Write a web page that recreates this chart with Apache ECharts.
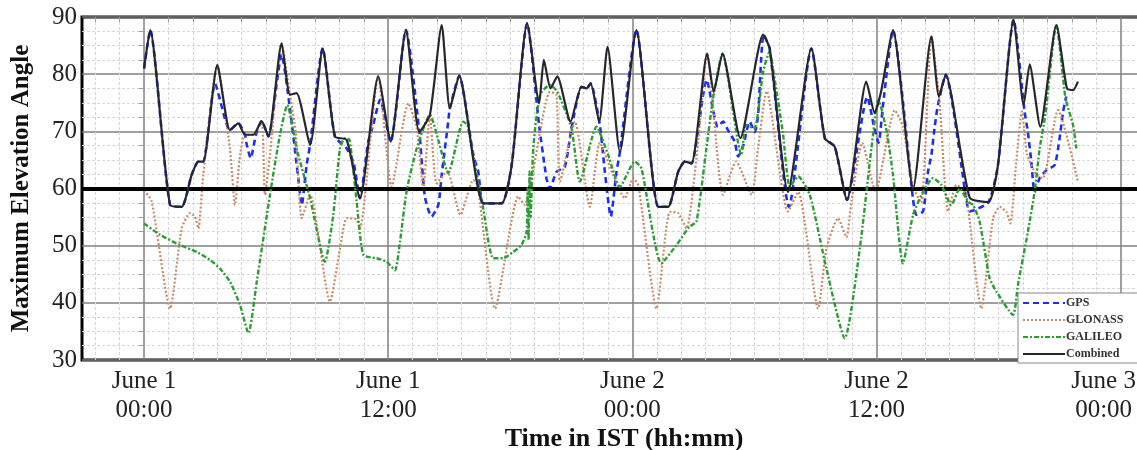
<!DOCTYPE html>
<html>
<head>
<meta charset="utf-8">
<title>Maximum Elevation Angle</title>
<script src="https://cdn.jsdelivr.net/npm/echarts@6/dist/echarts.min.js"></script>
<style>
  html, body { margin: 0; padding: 0; background: #fff; }
  #main { width: 1137px; height: 450px; }
</style>
</head>
<body>
<div id="main"></div>
<script>
// hours since June 1 00:00 IST, elevation in degrees
const tickHours = [0, 12, 24, 36, 48];
const tickLabels = ['June 1\n00:00', 'June 1\n12:00', 'June 2\n00:00', 'June 2\n12:00', 'June 3\n00:00'];

const gps = [
    [0, 81], [0.3, 87.7], [1.28, 57.1], [1.85, 56.8], [2.34, 62.4], [2.67, 64.7], [2.91, 64.7], [3.49, 78.3],
    [4.22, 70.2], [4.63, 71.4], [4.96, 69.4], [5.05, 67.6], [5.24, 65.3], [5.5, 69.4], [5.78, 71.8], [6.11, 69.1],
    [6.76, 83.4], [7.17, 74.0], [7.58, 61.8], [7.75, 57.1], [7.99, 64.1], [8.16, 67.6], [8.78, 84.5], [9.38, 69.1],
    [9.96, 67.0], [10.3, 64.5], [10.61, 58.3], [11.02, 68.2], [11.26, 71.1], [11.6, 75.5], [12.12, 68.2], [12.87, 87.7],
    [13.53, 69.9], [13.8, 58.6], [14.13, 55.1], [14.46, 57.1], [14.63, 62.4], [14.95, 71.7], [15.03, 74.0], [15.49, 79.7],
    [16.18, 65.9], [16.43, 62.9], [16.67, 57.4], [17.57, 57.4], [18.07, 64.1], [18.83, 88.9], [19.42, 71.0], [19.78, 61.8],
    [19.95, 60.0], [20.27, 62.9], [20.68, 63.8], [21.01, 70.5], [21.5, 77.8], [21.75, 77.5], [21.95, 78.4], [22.4, 71.1],
    [22.65, 62.9], [22.94, 55.1], [23.22, 62.9], [23.39, 66.4], [24.2, 87.7], [25.27, 56.8], [25.76, 56.8], [26.25, 62.9],
    [26.58, 64.7], [26.91, 64.4], [27.65, 79.0], [28.2, 70.8], [28.46, 71.7], [28.7, 70.2], [29.03, 68.2], [29.2, 65.6],
    [29.45, 67.5], [29.77, 71.7], [30.02, 69.9], [30.18, 72.9], [30.45, 86.9], [30.75, 84.5], [31.7, 56.8], [32.8, 84.5],
    [33.46, 68.8], [33.95, 67.3], [34.55, 58.0], [35.55, 76.0], [35.9, 70.5], [36.1, 68.0], [36.32, 74.6], [36.81, 87.7],
    [37.8, 58.0], [37.96, 55.4], [38.29, 56.0], [38.53, 62.9], [38.7, 65.9], [38.86, 70.8], [39.02, 74.6], [39.4, 79.9],
    [40.42, 58.0], [40.58, 56.0], [41.5, 57.6], [41.97, 64.1], [42.74, 89.5], [43.28, 73.4], [43.44, 69.9], [43.61, 64.7],
    [43.77, 59.4], [44.02, 61.8], [44.35, 63.2], [44.76, 64.1], [45.0, 68.8], [45.17, 73.4], [45.33, 76.1]
];

const glonass = [
    [0, 59.7], [0.38, 57.7], [1.28, 39.0], [1.85, 53.0], [2.26, 55.7], [2.5, 55.1], [2.67, 53.0], [2.91, 62.4],
    [3.6, 81.6], [4.22, 67.0], [4.47, 57.1], [4.72, 65.9], [4.96, 69.4], [5.37, 69.4], [5.78, 71.8], [5.94, 58.9],
    [6.19, 65.9], [6.76, 85.4], [7.17, 76.4], [7.45, 70.0], [7.75, 54.8], [8.16, 58.9], [9.14, 40.2], [9.63, 49.5],
    [9.96, 54.8], [10.45, 54.6], [10.61, 53.0], [11.51, 79.6], [12.17, 60.3], [12.99, 74.9], [13.4, 70.5], [13.72, 60.0],
    [14.05, 72.9], [14.38, 60.9], [14.9, 63.0], [15.55, 55.4], [16.18, 61.5], [16.4, 60.5], [17.25, 39.0], [18.39, 58.6],
    [18.7, 57.1], [19.95, 76.9], [20.27, 76.4], [20.44, 61.2], [21.18, 71.7], [21.91, 56.8], [22.4, 68.0], [23.05, 62.4],
    [23.63, 58.3], [24.04, 61.8], [24.3, 60.5], [25.19, 39.0], [25.84, 55.9], [26.25, 55.7], [26.66, 53.0], [27.2, 67.0],
    [27.68, 83.6], [28.46, 58.9], [29.1, 64.7], [29.86, 58.9], [30.18, 67.1], [30.6, 77.0], [31.65, 56.0], [32.15, 59.4],
    [33.13, 39.0], [33.54, 49.5], [34.11, 54.8], [34.52, 51.5], [34.77, 57.7], [35.3, 68.0], [35.95, 59.5], [36.9, 73.7],
    [37.3, 70.8], [37.8, 60.3], [38.2, 57.5], [38.7, 86.6], [39.1, 75.2], [39.52, 56.0], [39.93, 60.6], [40.2, 60.0],
    [40.42, 58.9], [41.15, 39.0], [41.73, 54.8], [42.06, 56.8], [42.38, 55.9], [42.58, 53.9], [42.87, 64.7], [43.15, 73.5],
    [43.4, 66.0], [43.86, 62.4], [44.18, 61.8], [44.92, 73.7], [45.9, 61.2]
];

const galileo = [
    [0, 53.9], [0.79, 51.9], [1.77, 50.1], [2.59, 48.9], [3.24, 47.5], [3.73, 46.0], [4.22, 43.7], [4.72, 39.6],
    [5.13, 34.7], [5.54, 43.7], [6.19, 58.9], [6.68, 69.4], [7.04, 74.6], [7.5, 67.0], [8.16, 58.3], [8.89, 47.2],
    [9.3, 55.4], [9.63, 67.0], [9.87, 68.8], [10.1, 68.5], [10.45, 57.7], [10.78, 48.4], [11.43, 47.8], [11.92, 47.2],
    [12.33, 45.7], [12.58, 50.7], [12.9, 59.4], [13.4, 67.0], [14.05, 72.9], [14.5, 68.0], [14.95, 62.7], [15.69, 71.7],
    [15.9, 71.0], [16.67, 56.5], [17.16, 47.8], [17.65, 47.8], [18.14, 48.9], [18.55, 50.1], [18.8, 52.4], [18.85, 60.0],
    [18.9, 51.0], [18.95, 63.0], [19.0, 55.0], [19.13, 67.0], [19.46, 76.4], [19.95, 78.1], [20.3, 77.0], [21.01, 70.5],
    [21.42, 61.2], [22.24, 70.8], [22.81, 65.9], [23.39, 60.3], [24.12, 64.7], [24.45, 63.5], [25.43, 46.9], [26.17, 50.1],
    [26.8, 53.3], [27.15, 54.2], [27.64, 67.0], [27.97, 75.8], [28.43, 83.6], [29.36, 65.9], [29.6, 71.1], [30.0, 70.5],
    [30.43, 80.4], [30.75, 84.0], [30.9, 81.3], [31.4, 69.7], [31.74, 60.3], [32.15, 62.1], [32.72, 58.9], [33.54, 46.0],
    [34.44, 33.8], [35.18, 49.5], [35.75, 67.0], [36.1, 75.5], [36.5, 70.0], [36.81, 62.4], [37.3, 46.9], [37.8, 55.4],
    [38.29, 59.4], [38.78, 61.8], [39.19, 60.6], [39.68, 57.1], [40.09, 60.0], [40.5, 57.7], [40.75, 57.1], [41.07, 54.2],
    [41.56, 44.3], [41.89, 42.0], [42.71, 37.9], [42.95, 43.1], [43.44, 52.4], [43.77, 59.4], [44.02, 67.0], [44.3, 72.9],
    [44.84, 88.6], [45.29, 75.8], [45.66, 71.1], [45.82, 67.0]
];

const combined = [
    [0, 81], [0.3, 87.7], [1.28, 57.1], [1.85, 56.8], [2.34, 62.4], [2.67, 64.7], [2.91, 64.7], [3.6, 81.6],
    [4.22, 70.2], [4.63, 71.4], [4.96, 69.4], [5.37, 69.4], [5.78, 71.8], [6.11, 69.1], [6.76, 85.4], [7.17, 76.4],
    [7.5, 76.7], [8.16, 67.6], [8.78, 84.5], [9.38, 69.1], [9.96, 68.5], [10.61, 58.3], [11.51, 79.6], [12.12, 68.2],
    [12.87, 87.7], [13.53, 69.9], [14.05, 72.9], [14.63, 88.6], [15.03, 74.0], [15.49, 79.7], [16.67, 57.4], [17.57, 57.4],
    [18.07, 64.1], [18.83, 88.9], [19.42, 74.9], [19.65, 82.5], [19.98, 77.5], [20.31, 79.6], [20.96, 71.7], [21.5, 77.8],
    [21.75, 77.5], [21.95, 78.4], [22.37, 71.7], [22.78, 84.8], [23.39, 66.4], [24.2, 87.7], [25.27, 56.8], [25.76, 56.8],
    [26.25, 62.9], [26.58, 64.7], [26.91, 64.4], [27.68, 83.6], [28.0, 76.9], [28.43, 83.6], [29.31, 68.8], [30.43, 86.9],
    [30.75, 84.5], [31.65, 59.4], [32.8, 84.5], [33.46, 68.8], [33.95, 67.3], [34.55, 58.0], [35.5, 78.7], [35.91, 73.2],
    [36.24, 77.2], [36.81, 87.7], [37.8, 60.0], [38.7, 86.6], [39.07, 76.1], [39.4, 79.9], [40.58, 58.4], [41.5, 57.6],
    [41.97, 64.1], [42.74, 89.5], [43.23, 74.6], [43.53, 81.7], [44.05, 70.8], [44.84, 88.6], [45.36, 77.5], [45.66, 77.2],
    [45.9, 78.7]
];

// light grid every 1.2 h between the 12 h lines
const minorHours = [];
for (let k = -2; k <= 40; k++) {
    if (k % 10 !== 0) minorHours.push(Math.round(k * 1.2 * 100) / 100);
}

const serif = 'Liberation Serif';
let myChart = echarts.init(document.getElementById('main'));

let option = {
    backgroundColor: '#fff',
    animation: false,
    grid: {
        left: 82,
        top: 17,
        width: 1060,
        height: 343,
        outerBoundsMode: 'none',
        containLabel: false,
        show: true,
        backgroundColor: '#fff',
        borderColor: '#000',
        borderWidth: 3
    },
    legend: {
        orient: 'vertical',
        left: 1018,
        top: 293,
        itemWidth: 42,
        itemHeight: 10,
        itemGap: 5,
        padding: [4, 40, 3, 4],
        backgroundColor: '#fff',
        borderColor: '#888',
        borderWidth: 1,
        borderRadius: 0,
        itemStyle: { opacity: 0 },
        textStyle: {
            fontFamily: serif,
            fontWeight: 'bold',
            fontSize: 12,
            color: '#333',
            padding: [0, 0, 0, -4]
        },
        data: ['GPS', 'GLONASS', 'GALILEO', 'Combined']
    },
    xAxis: [
        {
            type: 'value',
            min: -3.05,
            max: 49.05,
            position: 'bottom',
            name: 'Time in IST (hh:mm)',
            nameLocation: 'middle',
            nameGap: 66,
            nameMoveOverlap: false,
            nameTextStyle: {
                fontFamily: serif,
                fontWeight: 'bold',
                fontSize: 26,
                color: '#111',
                padding: [0, 0, 0, 24]
            },
            axisLine: { show: false },
            axisTick: { show: false, customValues: tickHours },
            axisLabel: {
                customValues: tickHours,
                margin: 7,
                fontFamily: serif,
                fontSize: 25,
                lineHeight: 29,
                color: '#222',
                formatter: function(v) {
                    let i = tickHours.indexOf(v);
                    // the last label sits a little left of its tick, as in the source figure
                    if (i === tickHours.length - 1) {
                        return tickLabels[i].split('\n').map(s => '{end|' + s + '}').join('\n');
                    }
                    return tickLabels[i];
                },
                rich: {
                    end: {
                        fontFamily: serif,
                        fontSize: 25,
                        lineHeight: 29,
                        color: '#222',
                        padding: [0, 34, 0, 0]
                    }
                }
            },
            splitLine: { show: true, lineStyle: { color: '#808080', width: 1.5 } }
        },
        {
            type: 'value',
            min: -3.05,
            max: 49.05,
            position: 'top',
            axisLine: { show: false },
            axisLabel: { show: false },
            axisTick: { show: true, inside: true, length: 5, customValues: minorHours, lineStyle: { color: '#999' } },
            splitLine: { show: true, lineStyle: { color: '#d6d6d6', width: 1, type: [3, 2] } }
        }
    ],
    yAxis: {
        type: 'value',
        min: 30,
        max: 90,
        interval: 10,
        name: 'Maximum Elevation Angle',
        nameLocation: 'middle',
        nameGap: 48,
        nameMoveOverlap: false,
        nameTextStyle: {
            fontFamily: serif,
            fontWeight: 'bold',
            fontSize: 25,
            color: '#111'
        },
        axisLine: { show: false },
        axisTick: { show: false },
        minorTick: { show: true, splitNumber: 4, length: 5, lineStyle: { color: '#999' } },
        axisLabel: {
            margin: 5,
            fontFamily: serif,
            fontSize: 25,
            color: '#222'
        },
        splitLine: { show: true, lineStyle: { color: '#808080', width: 1.5 } },
        minorSplitLine: { show: true, lineStyle: { color: '#d6d6d6', width: 1, type: [3, 2] } }
    },
    series: [
        {
            name: 'GPS',
            type: 'line',
            data: gps,
            symbol: 'none',
            smooth: 0.2,
            z: 3,
            lineStyle: { color: '#1f2fe8', width: 2.6, type: [6, 4] },
            itemStyle: { color: '#1f2fe8' }
        },
        {
            name: 'GLONASS',
            type: 'line',
            data: glonass,
            symbol: 'none',
            smooth: 0.2,
            z: 4,
            lineStyle: { color: '#c98a66', width: 2.2, type: [2, 2] },
            itemStyle: { color: '#c98a66' }
        },
        {
            name: 'GALILEO',
            type: 'line',
            data: galileo,
            symbol: 'none',
            smooth: 0.2,
            z: 5,
            lineStyle: { color: '#2e9b36', width: 2.4, type: [5, 2, 2, 2] },
            itemStyle: { color: '#2e9b36' }
        },
        {
            name: 'Combined',
            type: 'line',
            data: combined,
            symbol: 'none',
            smooth: 0.2,
            z: 6,
            lineStyle: { color: '#26262f', width: 2.2 },
            itemStyle: { color: '#26262f' },
            markLine: {
                silent: true,
                symbol: 'none',
                label: { show: false },
                lineStyle: { color: '#000', width: 4, type: 'solid' },
                data: [{ yAxis: 60 }]
            }
        }
    ]
};

myChart.setOption(option);

window.addEventListener('resize', function() {
    myChart.resize();
});
</script>
</body>
</html>
